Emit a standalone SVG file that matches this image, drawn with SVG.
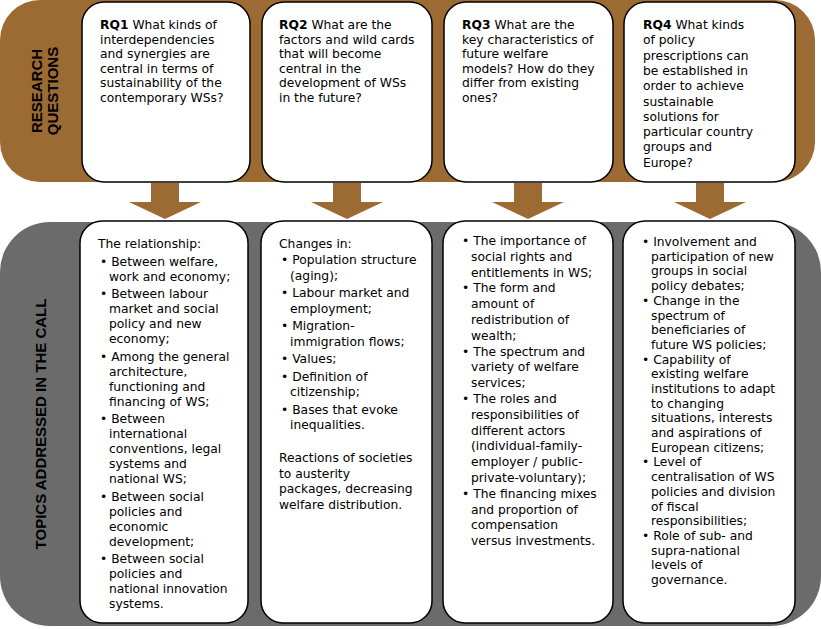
<svg xmlns="http://www.w3.org/2000/svg" width="821" height="629" viewBox="0 0 821 629">
<style>
.b{fill:#fff;stroke:#000;stroke-width:1.5}
text{font-family:"DejaVu Sans",Verdana,sans-serif;font-size:12.3px;fill:#000}
.h{font-family:"Liberation Sans",Arial,sans-serif;font-weight:bold;font-size:15px}
.ar{fill:#9c6a33}
</style>
<rect x="0" y="0" width="815" height="182" rx="40" fill="#9c6a33"/>
<rect x="0" y="222" width="821" height="404" rx="50" fill="#6b6b6b"/>
<text class="h" transform="translate(42,91) rotate(-90)" text-anchor="middle">RESEARCH</text>
<text class="h" transform="translate(58,91) rotate(-90)" text-anchor="middle">QUESTIONS</text>
<text class="h" transform="translate(46,424) rotate(-90)" text-anchor="middle">TOPICS ADDRESSED IN THE CALL</text>
<g id="connectors">
<polygon class="ar" points="151,183 179,183 179,202 201,202 165,219 129,202 151,202"/>
<polygon class="ar" points="333,183 361,183 361,202 383,202 347,219 311,202 333,202"/>
<polygon class="ar" points="514,183 542,183 542,202 564,202 528,219 492,202 514,202"/>
<polygon class="ar" points="696,183 724,183 724,202 746,202 710,219 674,202 696,202"/>
</g>
<g id="rq1"><rect class="b" x="82" y="2" width="168" height="180" rx="22"/>
<text x="100" y="29"><tspan font-weight="bold">RQ1</tspan>  What kinds of<tspan x="100" dy="14.5">interdependencies</tspan><tspan x="100" dy="14.5">and synergies are</tspan><tspan x="100" dy="14.5">central in terms of</tspan><tspan x="100" dy="14.5">sustainability of the</tspan><tspan x="100" dy="14.5">contemporary WSs?</tspan></text></g>
<g id="rq2"><rect class="b" x="262" y="2" width="170" height="180" rx="22"/>
<text x="279" y="29"><tspan font-weight="bold">RQ2</tspan>  What are the<tspan x="279" dy="14.5">factors and wild cards</tspan><tspan x="279" dy="14.5">that will become</tspan><tspan x="279" dy="14.5">central in the</tspan><tspan x="279" dy="14.5">development of WSs</tspan><tspan x="279" dy="14.5">in the future?</tspan></text></g>
<g id="rq3"><rect class="b" x="444" y="2" width="169" height="180" rx="22"/>
<text x="462" y="29"><tspan font-weight="bold">RQ3</tspan>  What are the<tspan x="462" dy="14.5">key characteristics of</tspan><tspan x="462" dy="14.5">future welfare</tspan><tspan x="462" dy="14.5">models? How do they</tspan><tspan x="462" dy="14.5">differ from existing</tspan><tspan x="462" dy="14.5">ones?</tspan></text></g>
<g id="rq4"><rect class="b" x="624" y="2" width="171" height="180" rx="22"/>
<text x="643" y="29"><tspan font-weight="bold">RQ4</tspan>  What kinds<tspan x="643" dy="15.3">of policy</tspan><tspan x="643" dy="15.3">prescriptions can</tspan><tspan x="643" dy="15.3">be established in</tspan><tspan x="643" dy="15.3">order to achieve</tspan><tspan x="643" dy="15.3">sustainable</tspan><tspan x="643" dy="15.3">solutions for</tspan><tspan x="643" dy="15.3">particular country</tspan><tspan x="643" dy="15.3">groups and</tspan><tspan x="643" dy="15.3">Europe?</tspan></text></g>
<g id="t1"><rect class="b" x="80" y="221" width="168" height="402" rx="22"/>
<text x="98" y="248">The relationship:<tspan x="100" dy="17.5">• Between welfare,</tspan><tspan x="109" dy="15">work and economy;</tspan><tspan x="100" dy="17.5">• Between labour</tspan><tspan x="109" dy="15">market and social</tspan><tspan x="109" dy="15">policy and new</tspan><tspan x="109" dy="15">economy;</tspan><tspan x="100" dy="17.5">• Among the general</tspan><tspan x="109" dy="15">architecture,</tspan><tspan x="109" dy="15">functioning and</tspan><tspan x="109" dy="15">financing of WS;</tspan><tspan x="100" dy="17.5">• Between</tspan><tspan x="109" dy="15">international</tspan><tspan x="109" dy="15">conventions, legal</tspan><tspan x="109" dy="15">systems and</tspan><tspan x="109" dy="15">national WS;</tspan><tspan x="100" dy="17.5">• Between social</tspan><tspan x="109" dy="15">policies and</tspan><tspan x="109" dy="15">economic</tspan><tspan x="109" dy="15">development;</tspan><tspan x="100" dy="17.5">• Between social</tspan><tspan x="109" dy="15">policies and</tspan><tspan x="109" dy="15">national innovation</tspan><tspan x="109" dy="15">systems.</tspan></text></g>
<g id="t2"><rect class="b" x="261" y="221" width="171" height="402" rx="22"/>
<text x="279" y="248">Changes in:<tspan x="281" dy="16">• Population structure</tspan><tspan x="290" dy="15.5">(aging);</tspan><tspan x="281" dy="17.5">• Labour market and</tspan><tspan x="290" dy="15.5">employment;</tspan><tspan x="281" dy="17.5">• Migration-</tspan><tspan x="290" dy="15.5">immigration flows;</tspan><tspan x="281" dy="17.5">• Values;</tspan><tspan x="281" dy="17.5">• Definition of</tspan><tspan x="290" dy="15.5">citizenship;</tspan><tspan x="281" dy="17.5">• Bases that evoke</tspan><tspan x="290" dy="15.5">inequalities.</tspan><tspan x="279" dy="33">Reactions of societies</tspan><tspan x="279" dy="15.5">to austerity</tspan><tspan x="279" dy="15.5">packages, decreasing</tspan><tspan x="279" dy="15.5">welfare distribution.</tspan></text></g>
<g id="t3"><rect class="b" x="443" y="221" width="170" height="402" rx="22"/>
<text x="462" y="245">• The importance of<tspan x="471" dy="15.8">social rights and</tspan><tspan x="471" dy="15.8">entitlements in WS;</tspan><tspan x="462" dy="15.8">• The form and</tspan><tspan x="471" dy="15.8">amount of</tspan><tspan x="471" dy="15.8">redistribution of</tspan><tspan x="471" dy="15.8">wealth;</tspan><tspan x="462" dy="15.8">• The spectrum and</tspan><tspan x="471" dy="15.8">variety of welfare</tspan><tspan x="471" dy="15.8">services;</tspan><tspan x="462" dy="15.8">• The roles and</tspan><tspan x="471" dy="15.8">responsibilities of</tspan><tspan x="471" dy="15.8">different actors</tspan><tspan x="471" dy="15.8">(individual-family-</tspan><tspan x="471" dy="15.8">employer / public-</tspan><tspan x="471" dy="15.8">private-voluntary);</tspan><tspan x="462" dy="15.8">• The financing mixes</tspan><tspan x="471" dy="15.8">and proportion of</tspan><tspan x="471" dy="15.8">compensation</tspan><tspan x="471" dy="15.8">versus investments.</tspan></text></g>
<g id="t4"><rect class="b" x="623" y="221" width="172" height="402" rx="22"/>
<text x="642" y="246">• Involvement and<tspan x="651" dy="14.7">participation of new</tspan><tspan x="651" dy="14.7">groups in social</tspan><tspan x="651" dy="14.7">policy debates;</tspan><tspan x="642" dy="14.7">• Change in the</tspan><tspan x="651" dy="14.7">spectrum of</tspan><tspan x="651" dy="14.7">beneficiaries of</tspan><tspan x="651" dy="14.7">future WS policies;</tspan><tspan x="642" dy="14.7">• Capability of</tspan><tspan x="651" dy="14.7">existing welfare</tspan><tspan x="651" dy="14.7">institutions to adapt</tspan><tspan x="651" dy="14.7">to changing</tspan><tspan x="651" dy="14.7">situations, interests</tspan><tspan x="651" dy="14.7">and aspirations of</tspan><tspan x="651" dy="14.7">European citizens;</tspan><tspan x="642" dy="14.7">• Level of</tspan><tspan x="651" dy="14.7">centralisation of WS</tspan><tspan x="651" dy="14.7">policies and division</tspan><tspan x="651" dy="14.7">of fiscal</tspan><tspan x="651" dy="14.7">responsibilities;</tspan><tspan x="642" dy="14.7">• Role of sub- and</tspan><tspan x="651" dy="14.7">supra-national</tspan><tspan x="651" dy="14.7">levels of</tspan><tspan x="651" dy="14.7">governance.</tspan></text></g>
</svg>
